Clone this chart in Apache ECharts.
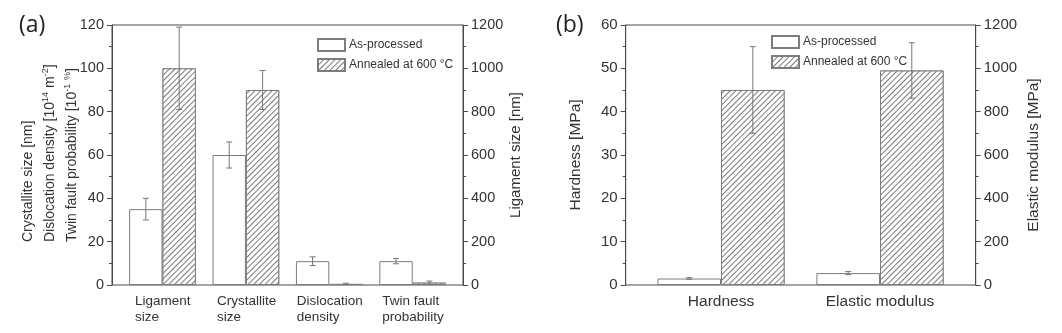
<!DOCTYPE html>
<html>
<head>
<meta charset="utf-8">
<script src="https://cdn.jsdelivr.net/npm/echarts@6/dist/echarts.min.js"></script>
<style>html,body{margin:0;padding:0;background:#fff;}#c{width:1062px;height:333px;}</style>
</head>
<body>
<div id="c"></div>
<script>
// ---------- Panel (a) data ----------
const catsA = ['Ligament\nsize', 'Crystallite\nsize', 'Dislocation\ndensity', 'Twin fault\nprobability'];
// Ligament size is read on the right axis [nm]; others on the left axis
const ligamentNm = [350, 1000];          // as-processed, annealed
const ligamentErrNm = [50, 190];
const asProcA = [null, 60, 11, 11];      // crystallite [nm], dislocation [1e14 m^-2], twin [1e-1 %]
const annealA = [null, 90, 0.5, 1.1];
const asErrA = [null, 6, 2, 1.2];
const anErrA = [null, 9, 0.3, 0.7];
const leftTicksA = [0, 120, 20];
const rightTicksA = [0, 1200, 200];

// ---------- Panel (b) data ----------
const catsB = ['Hardness', 'Elastic modulus'];
const hardness = [1.5, 45];               // [MPa], left axis
const hardnessErr = [0.2, 10];
const modulus = [55, 990];                // [MPa], right axis
const modulusErr = [7, 128];
const leftTicksB = [0, 60, 10];
const rightTicksB = [0, 1200, 200];

// right-axis values converted to left-axis scale
const ratioA = rightTicksA[1] / leftTicksA[1];
const ratioB = rightTicksB[1] / leftTicksB[1];
const asA = asProcA.slice(); asA[0] = ligamentNm[0] / ratioA;
const anA = annealA.slice(); anA[0] = ligamentNm[1] / ratioA;
const aeA = asErrA.slice(); aeA[0] = ligamentErrNm[0] / ratioA;
const neA = anErrA.slice(); neA[0] = ligamentErrNm[1] / ratioA;
const asB = [hardness[0], modulus[0] / ratioB];
const anB = [hardness[1], modulus[1] / ratioB];
const aeB = [hardnessErr[0], modulusErr[0] / ratioB];
const neB = [hardnessErr[1], modulusErr[1] / ratioB];

const FONT = 'Liberation Sans';
const AX = '#4a4a4a';
const TXT = '#333';
const BARLINE = '#7d7d7d';
const decal = {symbol: 'rect', symbolSize: 1, dashArrayX: [1, 0], dashArrayY: [1, 2.6],
  rotation: -Math.PI / 4, color: '#7a7a7a', backgroundColor: '#ffffff'};

function valueAxis(grid, pos, ticks, show, fs, name, gap) {
  return {
    type: 'value', gridIndex: grid, position: pos, min: ticks[0], max: ticks[1], interval: ticks[2],
    show: show,
    name: name || '', nameLocation: 'middle', nameGap: gap || 0, nameRotate: 90,
    nameTextStyle: {fontFamily: FONT, fontSize: fs + 0.5, color: TXT},
    axisLine: {show: true, lineStyle: {color: AX, width: 1}},
    axisTick: {show: true, inside: false, length: 5, lineStyle: {color: AX}},
    minorTick: {show: true, splitNumber: 2, length: 3, lineStyle: {color: AX}},
    splitLine: {show: false},
    axisLabel: {fontFamily: FONT, fontSize: fs, color: TXT, margin: 8,
      formatter: function (v) { return String(v); }}
  };
}

function errSeries(name, xi, yi, vals, errs, side) {
  return {
    type: 'custom', name: name, xAxisIndex: xi, yAxisIndex: yi, z: 5, silent: true,
    data: vals.map((v, i) => [i, v, errs[i]]),
    renderItem: function (params, api) {
      const i = api.value(0), v = api.value(1), e = api.value(2);
      const bw = api.size([1, 0])[0] * 0.4;
      const c = api.coord([i, v]);
      const x = c[0] + side * bw / 2;
      const top = api.coord([i, v + e])[1];
      const bot = api.coord([i, Math.max(v - e, 0)])[1];
      const cap = 3;
      const st = {stroke: '#777', lineWidth: 1, fill: null};
      return {type: 'group', children: [
        {type: 'line', shape: {x1: x, y1: top, x2: x, y2: bot}, style: st},
        {type: 'line', shape: {x1: x - cap, y1: top, x2: x + cap, y2: top}, style: st},
        {type: 'line', shape: {x1: x - cap, y1: bot, x2: x + cap, y2: bot}, style: st}
      ]};
    }
  };
}

const richA = {
  l0: {width: 55, align: 'left', fontFamily: FONT, fontSize: 13.5, color: TXT, lineHeight: 16},
  l1: {width: 58, align: 'left', fontFamily: FONT, fontSize: 13.5, color: TXT, lineHeight: 16},
  l2: {width: 65, align: 'left', fontFamily: FONT, fontSize: 13.5, color: TXT, lineHeight: 16},
  l3: {width: 61, align: 'left', fontFamily: FONT, fontSize: 13.5, color: TXT, lineHeight: 16}
};

const option = {
  backgroundColor: '#fff',
  animation: false,
  title: [
    {text: '(a)', left: 14, top: 9, textStyle: {fontFamily: 'Open Sans', fontSize: 23, fontWeight: 'normal', color: '#222'}},
    {text: '(b)', left: 551, top: 9, textStyle: {fontFamily: 'Open Sans', fontSize: 23, fontWeight: 'normal', color: '#222'}}
  ],
  legend: [
    {orient: 'vertical', left: 312, top: 33, itemWidth: 27, itemHeight: 12, itemGap: 6,
      icon: 'rect', data: ['As-processed', 'Annealed at 600 °C'], selectedMode: false,
      textStyle: {fontFamily: FONT, fontSize: 12, color: TXT, padding: [0, 0, 0, -1]}},
    {orient: 'vertical', left: 766, top: 30, itemWidth: 27, itemHeight: 12, itemGap: 6,
      icon: 'rect', data: ['As-processed', 'Annealed at 600 °C'], selectedMode: false,
      textStyle: {fontFamily: FONT, fontSize: 12, color: TXT, padding: [0, 0, 0, -1]}}
  ],
  grid: [
    {left: 112, right: 599, top: 25, bottom: 48, show: true, borderColor: AX, borderWidth: 1, backgroundColor: 'transparent'},
    {left: 120.8, right: 607.6, top: 25, bottom: 48},
    {left: 625.7, right: 86.3, top: 25, bottom: 48, show: true, borderColor: AX, borderWidth: 1, backgroundColor: 'transparent'},
    {left: 641.5, right: 102.5, top: 25, bottom: 48}
  ],
  xAxis: [
    {type: 'category', gridIndex: 0, show: false, data: catsA},
    {type: 'category', gridIndex: 1, data: catsA,
      axisLine: {show: false}, axisTick: {show: false},
      axisLabel: {margin: 8, interval: 0,
        formatter: function (v, idx) { return v.split('\n').map(s => '{l' + idx + '|' + s + '}').join('\n'); },
        rich: richA}},
    {type: 'category', gridIndex: 2, show: false, data: catsB},
    {type: 'category', gridIndex: 3, data: catsB,
      axisLine: {show: false}, axisTick: {show: false},
      axisLabel: {margin: 9, interval: 0, fontFamily: FONT, fontSize: 15.5, color: TXT}}
  ],
  yAxis: [
    valueAxis(0, 'left', leftTicksA, true, 14.5),
    valueAxis(0, 'right', rightTicksA, true, 14.5, 'Ligament size [nm]', 45),
    valueAxis(1, 'left', leftTicksA, false, 14.5),
    valueAxis(2, 'left', leftTicksB, true, 15, 'Hardness [MPa]', 42),
    valueAxis(2, 'right', rightTicksB, true, 15, 'Elastic modulus [MPa]', 50),
    valueAxis(3, 'left', leftTicksB, false, 15)
  ],
  graphic: [
    {type: 'text', x: 17, y: 242, rotation: Math.PI / 2,
      style: {
        text: 'Crystallite size [nm]\nDislocation density [10{sup|14} m{sup|-2}]\nTwin fault probability [10{sup|-1} {sup|%}]',
        fontFamily: FONT, fontSize: 14, fill: TXT, lineHeight: 22, align: 'left', verticalAlign: 'top',
        rich: {sup: {fontFamily: FONT, fontSize: 9, fill: TXT, verticalAlign: 'top', lineHeight: 22, padding: [2, 0, 0, 0]}}
      }}
  ],
  series: [
    {type: 'bar', name: 'As-processed', xAxisIndex: 1, yAxisIndex: 2, data: asA,
      barGap: '0%', barCategoryGap: '20%',
      itemStyle: {color: '#ffffff', borderColor: BARLINE, borderWidth: 1}},
    {type: 'bar', name: 'Annealed at 600 °C', xAxisIndex: 1, yAxisIndex: 2, data: anA,
      barGap: '0%', barCategoryGap: '20%',
      itemStyle: {color: '#ffffff', borderColor: BARLINE, borderWidth: 1, decal: decal}},
    errSeries('errA1', 1, 2, asA, aeA, -1),
    errSeries('errA2', 1, 2, anA, neA, 1),
    {type: 'bar', name: 'As-processed', xAxisIndex: 3, yAxisIndex: 5, data: asB,
      barGap: '0%', barCategoryGap: '20%',
      itemStyle: {color: '#ffffff', borderColor: BARLINE, borderWidth: 1}},
    {type: 'bar', name: 'Annealed at 600 °C', xAxisIndex: 3, yAxisIndex: 5, data: anB,
      barGap: '0%', barCategoryGap: '20%',
      itemStyle: {color: '#ffffff', borderColor: BARLINE, borderWidth: 1, decal: decal}},
    errSeries('errB1', 3, 5, asB, aeB, -1),
    errSeries('errB2', 3, 5, anB, neB, 1)
  ]
};

const chart = echarts.init(document.getElementById('c'), null, {renderer: 'canvas'});
chart.setOption(option);
</script>
</body>
</html>
